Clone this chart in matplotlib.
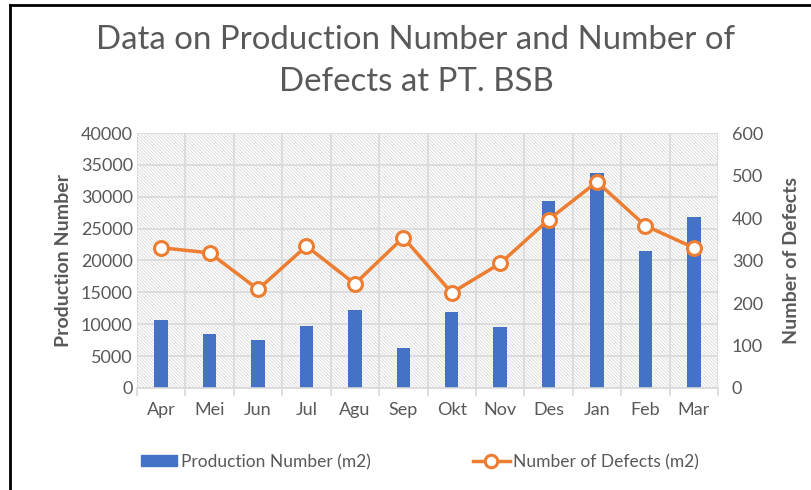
import matplotlib
matplotlib.use("Agg")
import matplotlib.pyplot as plt
from matplotlib.patches import Rectangle
from matplotlib.lines import Line2D
import numpy as np

months = ["Apr", "Mei", "Jun", "Jul", "Agu", "Sep", "Okt", "Nov", "Des", "Jan", "Feb", "Mar"]
production = [10600, 8400, 7600, 9800, 12200, 6200, 11900, 9500, 29300, 33700, 21500, 26900]
defects = [330, 318, 232, 334, 245, 354, 224, 293, 396, 485, 382, 330]

plt.rcParams['font.family'] = ['Lato', 'DejaVu Sans']
plt.rcParams['hatch.linewidth'] = 0.7
grey = '#595959'
blue = '#4472C4'
orange = '#ED7D31'
gridc = '#d9d9d9'

W, H = 811, 490
fig = plt.figure(figsize=(W/100, H/100), dpi=100)
L, R, T, B = 137, 718, 133, 388
ax = fig.add_axes([L/W, 1-B/H, (R-L)/W, (B-T)/H])
ax2 = ax.twinx()

x = np.arange(len(months))
ax.set_xlim(-0.5, len(months)-0.5)
ax.set_ylim(0, 40000)
ax2.set_ylim(0, 600)

# hatched background
ax.add_patch(Rectangle((0, 0), 1, 1, transform=ax.transAxes, fill=False,
                       hatch='\\' * 10, edgecolor='#dedede', linewidth=0, zorder=0))

ax.set_yticks(np.arange(0, 40001, 5000))
ax.yaxis.grid(True, color=gridc, linewidth=1.2, zorder=0.5)
for b in np.arange(-0.5, len(months), 1.0):
    ax.axvline(b, color=gridc, linewidth=1.2, zorder=0.5)
ax.set_axisbelow(True)

ax.bar(x, production, width=0.28, color=blue, zorder=2)
ax2.plot(x, defects, color=orange, linewidth=2.5, marker='o', markersize=10,
         markerfacecolor='white', markeredgecolor=orange, markeredgewidth=2.2, zorder=3)

ax.set_xticks(x)
ax.set_xticklabels(months)
ax.set_xticks(np.arange(-0.5, len(months), 1.0), minor=True)
ax.tick_params(axis='x', which='major', length=0, pad=10, labelsize=13, labelcolor=grey)
ax.tick_params(axis='x', which='minor', length=6, color=gridc, width=1.2)
ax.tick_params(axis='y', length=0, labelsize=13, labelcolor=grey, pad=3)
ax2.set_yticks(np.arange(0, 601, 100))
ax2.tick_params(axis='y', length=0, labelsize=13, labelcolor=grey, pad=10)

for a in (ax, ax2):
    for s in a.spines.values():
        s.set_visible(False)
ax.spines['bottom'].set_visible(True)
ax.spines['bottom'].set_color(gridc)
ax.spines['bottom'].set_linewidth(1.2)

ax.set_ylabel("Production Number", fontsize=14, fontweight='bold', color=grey, labelpad=6)
ax2.set_ylabel("Number of Defects", fontsize=14, fontweight='bold', color=grey, labelpad=14)

tx = 416 / W
fig.text(tx, 1-40/H, "Data on Production Number and Number of", ha='center', va='center',
         fontsize=23.8, color=grey)
fig.text(tx, 1-82/H, "Defects at PT. BSB", ha='center', va='center', fontsize=23.8, color=grey)

handles = [Rectangle((0, 0), 1, 1, color=blue),
           Line2D([0], [0], color=orange, linewidth=2.5, marker='o', markersize=9,
                  markerfacecolor='white', markeredgecolor=orange, markeredgewidth=2.2)]
fig.legend(handles, ["Production Number (m2)", "Number of Defects (m2)"], loc='center',
           bbox_to_anchor=(420/W, 1-462/H), ncol=2, frameon=False, fontsize=12.5,
           labelcolor=grey, handlelength=2.1, handletextpad=0.2, columnspacing=5.9,
           handleheight=0.6)

# border lines (left and top)
fig.add_artist(Line2D([9.5/W, 9.5/W], [0, 1-5.5/H], transform=fig.transFigure, color='black', linewidth=2))
fig.add_artist(Line2D([9.5/W, 1], [1-5.5/H, 1-5.5/H], transform=fig.transFigure, color='black', linewidth=2))

fig.savefig("out.png", dpi=100, facecolor='white')
